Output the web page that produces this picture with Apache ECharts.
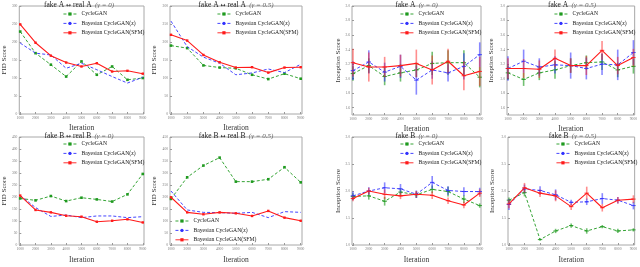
<!DOCTYPE html>
<html><head><meta charset="utf-8">
<script src="https://cdn.jsdelivr.net/npm/echarts@6/dist/echarts.min.js"></script>
<style>html,body{margin:0;padding:0;background:#fff}#c{width:640px;height:267px}</style>
</head><body><div id="c"></div>
<script>
// ---- data ----
const iterations = [1000,2000,3000,4000,5000,6000,7000,8000,9000];
const seriesNames = ['CycleGAN','Bayesian CycleGAN(z)','Bayesian CycleGAN(SFM)'];
const fidTopTicks = [0,50,100,150,200,250,300];
const fidBotTicks = [0,50,100,150,200,250,300,350,400,450];
const isTopTicks = [1.6,1.8,2.0,2.2,2.4,2.6,2.8,3.0];
const isBotTicks = [1.0,1.5,2.0,2.5,3.0];

// FID fake A <-> real A (gamma=0)
const fidA0_cycle = [229,169,137,104,146,109,132,95,100];
const fidA0_bz    = [197,169,164,127,141,123,104,86,102];
const fidA0_sfm   = [249,198,162,143,132,141,118,120,112];
// FID fake A <-> real A (gamma=0.5)
const fidA5_cycle = [190,183,135,129,127,109,97,112,98];
const fidA5_bz    = [258,187,158,141,109,114,125,115,138];
const fidA5_sfm   = [220,204,164,144,129,130,115,129,130];
// FID fake B <-> real B (gamma=0)
const fidB0_cycle = [194,186,204,183,197,190,181,211,296];
const fidB0_bz    = [206,156,119,125,114,121,121,114,118];
const fidB0_sfm   = [206,146,136,122,118,97,101,107,94];
// FID fake B <-> real B (gamma=0.5)
const fidB5_cycle = [192,282,331,364,264,264,274,324,261];
const fidB5_bz    = [225,146,136,135,132,136,114,139,136];
const fidB5_sfm   = [199,136,128,136,132,121,142,114,101];

// Inception fake A (gamma=0): means and error half-widths
const isA0_cycle = [2.07,2.18,2.03,2.08,2.12,2.21,2.22,2.22,2.02];
const isA0_cycle_err = [0.10,0.10,0.12,0.12,0.10,0.16,0.17,0.17,0.14];
const isA0_bz = [2.11,2.23,2.09,2.17,1.98,2.12,2.08,2.17,2.33];
const isA0_bz_err = [0.13,0.16,0.13,0.16,0.20,0.12,0.12,0.18,0.17];
const isA0_sfm = [2.22,2.16,2.16,2.18,2.21,2.12,2.24,2.04,2.10];
const isA0_sfm_err = [0.19,0.20,0.14,0.15,0.19,0.20,0.17,0.20,0.20];
// Inception fake A (gamma=0.5)
const isA5_cycle = [2.08,1.99,2.08,2.12,2.18,2.22,2.23,2.12,2.17];
const isA5_cycle_err = [0.10,0.09,0.10,0.12,0.10,0.10,0.11,0.10,0.10];
const isA5_bz = [2.14,2.24,2.16,2.19,2.18,2.14,2.20,2.19,2.36];
const isA5_bz_err = [0.17,0.16,0.12,0.12,0.18,0.15,0.15,0.21,0.17];
const isA5_sfm = [2.14,2.14,2.13,2.28,2.18,2.18,2.39,2.18,2.29];
const isA5_sfm_err = [0.14,0.13,0.12,0.12,0.10,0.13,0.13,0.12,0.12];
// Inception fake B (gamma=0)
const isB0_cycle = [1.90,1.91,1.81,1.98,1.93,2.03,1.99,1.85,1.73];
const isB0_cycle_err = [0.06,0.07,0.08,0.07,0.06,0.07,0.09,0.07,0.04];
const isB0_bz = [1.91,2.00,2.06,2.04,1.94,2.16,2.01,1.99,1.99];
const isB0_bz_err = [0.08,0.07,0.10,0.09,0.07,0.12,0.08,0.08,0.07];
const isB0_sfm = [1.86,2.00,1.94,1.91,1.94,1.92,1.82,1.74,1.96];
const isB0_sfm_err = [0.05,0.06,0.09,0.06,0.06,0.07,0.06,0.06,0.07];
// Inception fake B (gamma=0.5)
const isB5_cycle = [1.83,1.97,1.10,1.26,1.36,1.26,1.34,1.26,1.28];
const isB5_cycle_err = [0.05,0.07,0.02,0.04,0.04,0.05,0.03,0.04,0.03];
const isB5_bz = [1.75,2.04,2.01,1.93,1.79,1.80,1.86,1.83,1.73];
const isB5_bz_err = [0.10,0.08,0.08,0.10,0.05,0.06,0.10,0.06,0.07];
const isB5_sfm = [1.76,2.06,1.96,1.91,1.71,1.96,1.69,1.83,1.85];
const isB5_sfm_err = [0.08,0.09,0.07,0.10,0.06,0.12,0.07,0.06,0.07];

// ---- styling / layout ----
const SERIF = '"Liberation Serif","DejaVu Serif",serif';
const COLORS = ['#1f9a1f','#3030ff','#ff1a1a'];
const ERRCOLORS = ['rgba(20,150,20,0.6)','rgba(40,40,255,0.55)','rgba(255,30,30,0.5)'];
const LTYPES = [[3,2],[3,2],'solid'];

const panels = [
  {kind:'fid', rect:[14,6,130,108], ymin:0, ymax:300, ticks:fidTopTicks, title:['fake A','real A','(\u03b3 = 0)'], vals:[fidA0_cycle,fidA0_bz,fidA0_sfm], legend:[63,11], yGap:9, xGap:10},
  {kind:'fid', rect:[170,6,132,108], ymin:0, ymax:300, ticks:fidTopTicks, title:['fake A','real A','(\u03b3 = 0.5)'], vals:[fidA5_cycle,fidA5_bz,fidA5_sfm], legend:[217,11], yGap:12, xGap:10},
  {kind:'fid', rect:[14,137,130,108], ymin:0, ymax:450, ticks:fidBotTicks, title:['fake B','real B','(\u03b3 = 0)'], vals:[fidB0_cycle,fidB0_bz,fidB0_sfm], legend:[63,141], yGap:9, xGap:11},
  {kind:'fid', rect:[170,137,132,108], ymin:0, ymax:450, ticks:fidBotTicks, title:['fake B','real B','(\u03b3 = 0.5)'], vals:[fidB5_cycle,fidB5_bz,fidB5_sfm], legend:[175,218], yGap:12, xGap:11},
  {kind:'is', rect:[352,6,129,109], ymin:1.5, ymax:3.0, ticks:isTopTicks, title:['fake A',null,'(\u03b3 = 0)'], vals:[isA0_cycle,isA0_bz,isA0_sfm], errs:[isA0_cycle_err,isA0_bz_err,isA0_sfm_err], legend:[400,11], yGap:10, xGap:10},
  {kind:'is', rect:[507,6,130,109], ymin:1.5, ymax:3.0, ticks:isTopTicks, title:['fake A',null,'(\u03b3 = 0.5)'], vals:[isA5_cycle,isA5_bz,isA5_sfm], errs:[isA5_cycle_err,isA5_bz_err,isA5_sfm_err], legend:[554,11], yGap:12, xGap:10},
  {kind:'is', rect:[352,137,129,108], ymin:1.0, ymax:3.0, ticks:isBotTicks, title:['fake B',null,'(\u03b3 = 0)'], vals:[isB0_cycle,isB0_bz,isB0_sfm], errs:[isB0_cycle_err,isB0_bz_err,isB0_sfm_err], legend:[400,141], yGap:10, xGap:11},
  {kind:'is', rect:[508,137,129,108], ymin:1.0, ymax:3.0, ticks:isBotTicks, title:['fake B',null,'(\u03b3 = 0.5)'], vals:[isB5_cycle,isB5_bz,isB5_sfm], errs:[isB5_cycle_err,isB5_bz_err,isB5_sfm_err], legend:[556,141], yGap:12, xGap:11}
];

const grid=[], xAxis=[], yAxis=[], series=[], legend=[], graphic=[];
panels.forEach((p,i)=>{
  const [l,t,w,h]=p.rect;
  grid.push({left:l, top:t, width:w, height:h, show:true, borderColor:'#a8a8a8', borderWidth:1, backgroundColor:'#fff', containLabel:false});
  xAxis.push({type:'value', gridIndex:i, min:940, max:9080,
    name:'Iteration', nameLocation:'middle', nameGap:p.xGap,
    nameTextStyle:{fontFamily:SERIF, fontSize:7.5, color:'#333333'},
    axisLine:{show:false, lineStyle:{color:'#333333'}}, splitLine:{show:false},
    axisTick:{show:true, inside:true, length:2, customValues:iterations, lineStyle:{color:'#999999'}},
    axisLabel:{customValues:iterations, fontSize:3.6, color:'#777777', margin:2, fontFamily:SERIF, formatter: v => String(Math.round(v))}});
  yAxis.push({type:'value', gridIndex:i, min:p.ymin, max:p.ymax,
    name: p.kind==='fid' ? 'FID Score' : 'Inception Score', nameLocation:'middle', nameGap:p.yGap,
    nameTextStyle:{fontFamily:SERIF, fontSize:7, color:'#333333'},
    axisLine:{show:false, lineStyle:{color:'#333333'}}, splitLine:{show:false},
    axisTick:{show:true, inside:true, length:2, customValues:p.ticks, lineStyle:{color:'#999999'}},
    axisLabel:{customValues:p.ticks, fontSize:3.6, color:'#777777', margin:2, fontFamily:SERIF,
      formatter: v => p.kind==='fid' ? String(Math.round(v)) : Number(v).toFixed(1)}});
  const cx = l + w/2;
  const txt = p.title[1] ? '{a|'+p.title[0]+'}{c| \u2194 }{a|'+p.title[1]+'} {b|'+p.title[2]+'}' : '{a|'+p.title[0]+'} {b|'+p.title[2]+'}';
  graphic.push({type:'text', x:cx, y:t-6.5, style:{
    text:txt, textAlign:'center', textVerticalAlign:'top',
    rich:{a:{fontFamily:SERIF, fontSize:7.5, fill:'#222'}, c:{fontFamily:'"DejaVu Sans"', fontSize:6, fill:'#222'}, b:{fontFamily:SERIF, fontSize:7, fill:'#666', fontStyle:'italic'}}}});
  const legData=[];
  p.vals.forEach((vals,k)=>{
    const sym = p.kind==='fid' ? (k===1?'none':'rect') : 'none';
    series.push({type:'line', name:seriesNames[k], xAxisIndex:i, yAxisIndex:i,
      data: iterations.map((x,j)=>[x, vals[j]]),
      symbol:sym, symbolSize: k===0?2.6:2.4, showSymbol: sym!=='none',
      lineStyle:{color:COLORS[k], width: k===2?1.1:0.9, type:LTYPES[k]},
      itemStyle:{color:COLORS[k]}, animation:false, z: 3+k});
    if(p.kind==='is'){
      const errs = p.errs[k];
      series.push({type:'custom', name:seriesNames[k]+'_err', xAxisIndex:i, yAxisIndex:i,
        data: iterations.map((x,j)=>[x, vals[j], errs[j]]),
        encode:{x:0, y:1}, animation:false, z:2+k, silent:true,
        renderItem:(params, api)=>{
          const x=api.value(0), y=api.value(1), e=api.value(2);
          const top=api.coord([x, y+e]), bot=api.coord([x, y-e]), c=api.coord([x,y]);
          return {type:'group', children:[
            {type:'line', shape:{x1:top[0], y1:top[1], x2:bot[0], y2:bot[1]}, style:{stroke:ERRCOLORS[k], lineWidth:1.6}},
            {type:'line', shape:{x1:c[0]-2.2, y1:c[1], x2:c[0]+2.2, y2:c[1]}, style:{stroke:COLORS[k], lineWidth:0.9}}
          ]};
        }});
    }
    legData.push({name:seriesNames[k], lineStyle:{width:0.9, type:LTYPES[k], color:COLORS[k]}});
  });
  legend.push({data:legData, left:p.legend[0], top:p.legend[1], orient:'vertical', padding:0,
    itemWidth:13, itemHeight:4, itemGap:3.4, selectedMode:false,
    textStyle:{fontFamily:SERIF, fontSize:5.7, color:'#222222'}});
});

const chart = echarts.init(document.getElementById('c'), null, {renderer:'canvas'});
chart.setOption({animation:false, backgroundColor:'#fff', grid, xAxis, yAxis, series, legend, graphic});
</script></body></html>
